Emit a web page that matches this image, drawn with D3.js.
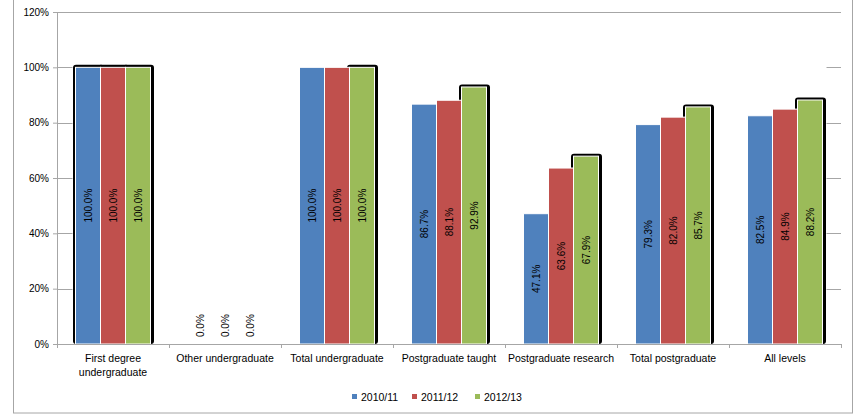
<!DOCTYPE html>
<html>
<head>
<meta charset="utf-8">
<script src="https://cdn.jsdelivr.net/npm/d3@7"></script>
<style>
  html, body { margin: 0; padding: 0; background: #fff; }
  svg { display: block; font-family: "Liberation Sans", Arial, sans-serif; }
</style>
</head>
<body>
<svg id="chart" width="854" height="414"></svg>
<script>
// Completion rates by level of study, three academic years
const categories = [
  ["First degree", "undergraduate"],
  ["Other undergraduate"],
  ["Total undergraduate"],
  ["Postgraduate taught"],
  ["Postgraduate research"],
  ["Total postgraduate"],
  ["All levels"]
];
const years = ["2010/11", "2011/12", "2012/13"];
const values2010 = [100.0, 0.0, 100.0, 86.7, 47.1, 79.3, 82.5];
const values2011 = [100.0, 0.0, 100.0, 88.1, 63.6, 82.0, 84.9];
const values2012 = [100.0, 0.0, 100.0, 92.9, 67.9, 85.7, 88.2];
const yTicks = [0, 20, 40, 60, 80, 100, 120];
const colors = ["#4f81bd", "#c0504d", "#9bbb59"];

const series = [values2010, values2011, values2012];
const catKeys = categories.map(c => c.join(" "));

const svg = d3.select("#chart");
const plot = { left: 57, right: 841, top: 12, bottom: 344 };

const x0 = d3.scaleBand().domain(catKeys).range([plot.left, plot.right]).padding(0);
const groupW = x0.bandwidth() * 75 / 112;
const groupPad = (x0.bandwidth() - groupW) / 2;
const x1 = d3.scaleBand().domain(years).range([groupPad, groupPad + groupW]).padding(0);
const y = d3.scaleLinear().domain([0, 120]).range([plot.bottom, plot.top]);

// outer chart frame
svg.append("rect")
  .attr("x", 13.5).attr("y", -1).attr("width", 839).attr("height", 414)
  .attr("fill", "none").attr("stroke", "#a6a6a6").attr("stroke-width", 1);

// horizontal gridlines: visible only in the margins beside the bar groups, full at the top
const gridG = svg.append("g");
const firstBarX = x0(catKeys[0]) + x1(years[0]) - 3;
const lastBarEnd = x0(catKeys[catKeys.length - 1]) + x1(years[2]) + x1.bandwidth() + 4;
yTicks.filter(t => t > 0).forEach(t => {
  const yy = Math.round(y(t)) + 0.5;
  if (t === 120) {
    gridG.append("line").attr("x1", plot.left).attr("x2", plot.right)
      .attr("y1", yy).attr("y2", yy).attr("stroke", "#a6a6a6");
  } else {
    gridG.append("line").attr("x1", plot.left).attr("x2", firstBarX)
      .attr("y1", yy).attr("y2", yy).attr("stroke", "#a6a6a6");
    gridG.append("line").attr("x1", lastBarEnd).attr("x2", plot.right)
      .attr("y1", yy).attr("y2", yy).attr("stroke", "#a6a6a6");
  }
});

// flat data list
const bars = [];
catKeys.forEach((c, i) => {
  years.forEach((yr, j) => {
    bars.push({ cat: c, ci: i, year: yr, si: j, value: series[j][i] });
  });
});

// dark shadows behind the highlighted bars
const shadowed = d => d.value > 0 && (d.ci === 0 || d.si === 2);
svg.append("g").selectAll("rect")
  .data(bars.filter(shadowed))
  .join("rect")
  .attr("x", d => x0(d.cat) + x1(d.year) - 2.5)
  .attr("y", d => y(d.value) - 2.5)
  .attr("width", x1.bandwidth() + 6)
  .attr("height", d => plot.bottom - y(d.value) + 2.5)
  .attr("rx", 3)
  .attr("fill", "#000");

// bars
svg.append("g").selectAll("rect")
  .data(bars.filter(d => d.value > 0))
  .join("rect")
  .attr("x", d => x0(d.cat) + x1(d.year))
  .attr("y", d => y(d.value))
  .attr("width", x1.bandwidth())
  .attr("height", d => plot.bottom - y(d.value))
  .attr("fill", d => colors[d.si])
  .attr("stroke", "#fff")
  .attr("stroke-width", 1);

// axes
const yAxis = d3.axisLeft(y).tickValues(yTicks).tickSize(4).tickFormat(d => d + "%");
const yg = svg.append("g").attr("transform", `translate(${plot.left},0)`).call(yAxis);
yg.select(".domain").attr("stroke", "#a6a6a6");
yg.selectAll(".tick line").attr("stroke", "#a6a6a6");
yg.selectAll(".tick text").attr("font-size", 10).attr("fill", "#000").attr("x", -8);

const xg = svg.append("g").attr("transform", `translate(0,${plot.bottom})`);
xg.append("line").attr("x1", plot.left).attr("x2", plot.right)
  .attr("y1", 0.5).attr("y2", 0.5).attr("stroke", "#a6a6a6");
x0.domain().concat(["end"]).forEach((c, i) => {
  const xx = Math.round(plot.left + i * x0.step()) + 0.5;
  xg.append("line").attr("x1", xx).attr("x2", xx).attr("y1", 0).attr("y2", 4)
    .attr("stroke", "#a6a6a6");
});
categories.forEach((lines, i) => {
  const t = xg.append("text")
    .attr("x", x0(catKeys[i]) + x0.bandwidth() / 2)
    .attr("y", 18)
    .attr("text-anchor", "middle")
    .attr("font-size", 10.5)
    .attr("fill", "#000");
  lines.forEach((ln, k) => {
    t.append("tspan").attr("x", x0(catKeys[i]) + x0.bandwidth() / 2)
      .attr("dy", k === 0 ? 0 : 14).text(ln);
  });
});

// value labels, rotated
svg.append("g").selectAll("text")
  .data(bars)
  .join("text")
  .attr("transform", d => {
    const cx = x0(d.cat) + x1(d.year) + x1.bandwidth() / 2 + 3.5;
    const cy = d.value > 0 ? (y(d.value) + plot.bottom) / 2 : plot.bottom - 7;
    return `translate(${cx},${cy}) rotate(-90)`;
  })
  .attr("text-anchor", d => d.value > 0 ? "middle" : "start")
  .attr("font-size", 10)
  .attr("fill", "#000")
  .text(d => d.value.toFixed(1) + "%");

// legend
const legend = svg.append("g");
const legendX = [352, 412, 475];
years.forEach((yr, j) => {
  legend.append("rect").attr("x", legendX[j]).attr("y", 394)
    .attr("width", 5).attr("height", 5).attr("fill", colors[j]);
  legend.append("text").attr("x", legendX[j] + 9).attr("y", 400.5)
    .attr("font-size", 10.5).attr("fill", "#000").text(yr);
});
</script>
</body>
</html>
